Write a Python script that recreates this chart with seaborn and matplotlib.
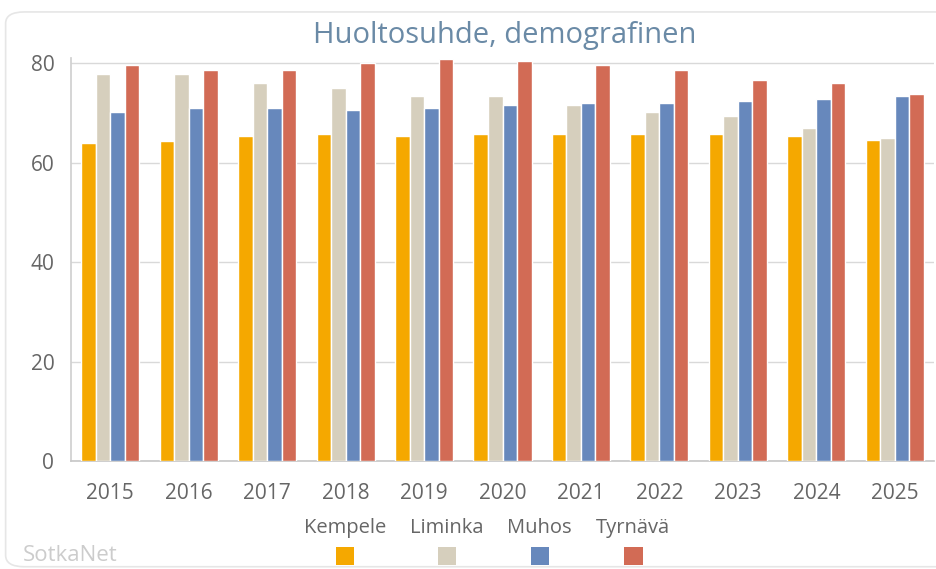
import numpy as np
import pandas as pd
import matplotlib
matplotlib.use("Agg")
import matplotlib.pyplot as plt
from matplotlib.patches import FancyBboxPatch, Rectangle
import seaborn as sns

years = [str(y) for y in range(2015, 2026)]
areas = ["Kempele", "Liminka", "Muhos", "Tyrnävä"]
kempele = [63.9, 64.3, 65.4, 65.7, 65.4, 65.7, 65.7, 65.7, 65.7, 65.3, 64.6]
liminka = [77.9, 77.9, 76.1, 75.0, 73.4, 73.4, 71.6, 70.1, 69.4, 66.9, 65.0]
muhos = [70.1, 70.9, 70.9, 70.5, 70.9, 71.6, 72.0, 72.0, 72.4, 72.8, 73.4]
tyrnava = [79.7, 78.6, 78.6, 80.1, 80.8, 80.4, 79.7, 78.6, 76.7, 76.1, 73.8]
colors = ["#F5A800", "#D6CFBD", "#6788BC", "#D26B55"]

df = pd.DataFrame({
    "vuosi": years * 4,
    "alue": np.repeat(areas, len(years)),
    "arvo": kempele + liminka + muhos + tyrnava,
})

sns.set_theme(style="white")
plt.rcParams["font.family"] = ["Open Sans", "DejaVu Sans"]

fig = plt.figure(figsize=(9.37, 5.69), dpi=100)
ax = fig.add_axes([0.0758, 0.1898, 0.921, 0.708])

# rounded frame around the whole chart
frame = FancyBboxPatch((0.006, 0.004), 1.2, 0.975, boxstyle="round,pad=0,rounding_size=0.02",
                       transform=fig.transFigure, facecolor="none", edgecolor="#e6e6e6",
                       linewidth=1.2, zorder=0)
fig.patches.append(frame)

sns.barplot(data=df, x="vuosi", y="arvo", hue="alue", palette=colors, saturation=1,
            width=0.74, edgecolor="white", linewidth=1, legend=False, ax=ax, zorder=3)

ax.set_ylim(0, 81)
ax.set_xlim(-0.5, len(years) - 0.5)
ax.set_yticks([0, 20, 40, 60, 80])
ax.yaxis.grid(True, color="#d9d9d9", linewidth=1)
ax.set_axisbelow(True)
ax.set_xlabel("")
ax.set_ylabel("")
for s in ["top", "right"]:
    ax.spines[s].set_visible(False)
ax.spines["left"].set_color("#d0d0d0")
ax.spines["bottom"].set_color("#c8c8c8")
ax.tick_params(axis="y", length=0, pad=12, labelsize=15, labelcolor="#666666")
ax.tick_params(axis="x", length=0, pad=16, labelsize=15, labelcolor="#666666")

fig.text(0.539, 0.938, "Huoltosuhde, demografinen", ha="center", va="center",
         fontsize=21, color="#6a8aa6")

# legend: labels above colour squares
leg_x = [0.368, 0.477, 0.576, 0.676]
for name, col, x in zip(areas, colors, leg_x):
    fig.text(x, 0.072, name, ha="center", va="center", fontsize=14.5, color="#666666")
    fig.patches.append(Rectangle((x - 0.0098, 0.007), 0.0196, 0.032, transform=fig.transFigure,
                                 facecolor=col, edgecolor="none"))

fig.text(0.024, 0.024, "SotkaNet", ha="left", va="center", fontsize=16, color="#cccccc")

fig.savefig("out.png", dpi=100)
